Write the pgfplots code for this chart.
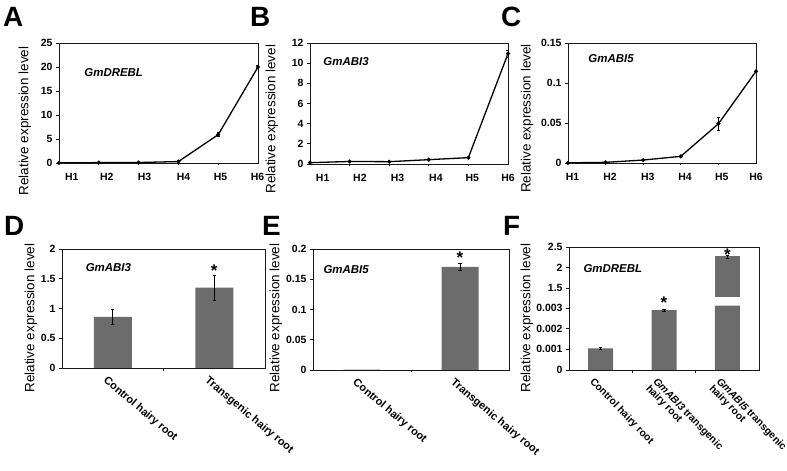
\documentclass[border=0pt]{standalone}
\usepackage{fontspec}
\setmainfont{Liberation Sans}
\usepackage{pgfplots}
\pgfplotsset{compat=1.18}
\definecolor{barc}{RGB}{108,108,108}
\definecolor{axc}{RGB}{25,25,25}
\newcommand{\fs}[1]{\fontsize{#1}{#1}\selectfont}
\pgfplotsset{
  panel/.style={
    scale only axis, axis line style={line width=0.9bp, axc},
    tick style={axc, line width=0.7bp}, tick align=outside,
    major tick length=3bp, minor tick length=2.5bp,
    tick label style={font=\bfseries\fs{10.5}},
    /pgf/number format/assume math mode=true,
    /pgf/number format/fixed, /pgf/number format/precision=3,
    scaled y ticks=false,
    ylabel={Relative expression level},
    ylabel style={font=\fs{13.5}, anchor=center},
    ytick pos=left, xtick pos=bottom, ymin=0,
    xtick style={/pgfplots/major tick length=0bp},
  },
  eb/.style={error bars/y dir=both, error bars/y explicit,
    error bars/error bar style={line width=0.6bp, black},
    error bars/error mark options={rotate=90, mark size=1.6bp, line width=0.6bp, black}},
  % labels of the line charts sit a little off the points, as in the source
  linep/.style={panel, xmin=1, xmax=6, minor xtick={2,3,4,5},
    xticklabels={H1,H2,H3,H4,H5,H6},
    xticklabel style={yshift=-4bp}},
  barp/.style={panel, xmin=0.5, xmax=#1+0.5, xtick={1,...,#1},
    xticklabel style={font=\bfseries\fs{11}, rotate=-40, anchor=north west,
      align=left, xshift=-4bp, yshift=-3bp}},
  curve/.style={black, line width=1.3bp, mark=*, mark size=1.3bp, eb},
  gbar/.style={ybar, bar width=#1, fill=barc, draw=none, eb},
  star/.style={only marks, mark=text, text mark={*}, text mark as node=true,
    text mark style={font=\bfseries\fs{17}, inner sep=0pt, yshift=-3bp}},
  % broken axis of panel F: frame drawn by hand, open at the break
  brk/.style={axis line style={draw=none}, clip mode=individual},
}
\tikzset{
  gene/.style={anchor=west, font=\bfseries\itshape\fs{11.5}},
  letter/.style={anchor=north west, inner sep=0pt, font=\bfseries\fs{28}},
  frame/.style={line width=0.9bp, axc, line cap=rect},
}
\begin{document}
\begin{tikzpicture}
\useasboundingbox (0,0) rectangle (787bp,471bp);

% A
\begin{axis}[linep, at={(59bp,428bp)}, anchor=north west, width=199bp, height=120bp,
  ymax=25, ytick={0,5,...,25}, xtick={1.32,2.2,3.15,4.13,5.06,5.99},
  ylabel style={at={(axis description cs:-0.171,0.35)}}]
\addplot[curve] coordinates {(1,0.02) (2,0.08) (3,0.1) (4,0.3) (5,5.9) +- (0,0.4) (6,20) +- (0,0.3)};
\node[gene] at (rel axis cs:0.11,0.754) {GmDREBL};
\end{axis}

% B
\begin{axis}[linep, at={(310bp,428bp)}, anchor=north west, width=198bp, height=121bp,
  ymax=12, ytick={0,2,...,12}, xtick={1.32,2.26,3.21,4.18,5.10,6.0},
  ylabel style={at={(axis description cs:-0.192,0.37)}}]
\addplot[curve] coordinates {(1,0.13) (2,0.25) (3,0.23) (4,0.43) (5,0.63) (6,10.95) +- (0,0.35)};
\node[gene] at (rel axis cs:0.05,0.85) {GmABI3};
\end{axis}

% C
\begin{axis}[linep, at={(568bp,428bp)}, anchor=north west, width=188bp, height=120bp,
  ymax=0.15, ytick={0,0.05,0.1,0.15}, xtick={1.12,2.12,3.12,4.11,5.09,6.0},
  ylabel style={at={(axis description cs:-0.218,0.37)}}]
\addplot[curve] coordinates {(1,0.0002) (2,0.0008) (3,0.0037) (4,0.0083) (5,0.049) +- (0,0.0083) (6,0.1146)};
\node[gene] at (rel axis cs:0.09,0.867) {GmABI5};
\end{axis}

% D
\begin{axis}[barp=2, at={(62bp,222bp)}, anchor=north west, width=203bp, height=119bp,
  ymax=2, ytick={0,0.5,...,2}, minor xtick={1.5},
  xticklabels={Control hairy root, Transgenic hairy root},
  ylabel style={at={(axis description cs:-0.153,0.42)}}]
\addplot[gbar=38bp] coordinates {(1,0.86) +- (0,0.125) (2,1.35) +- (0,0.21)};
\addplot[star] coordinates {(2,1.68)};
\node[gene] at (rel axis cs:0.1,0.84) {GmABI3};
\end{axis}

% E
\begin{axis}[barp=2, at={(313bp,222bp)}, anchor=north west, width=196bp, height=121bp,
  ymax=0.2, ytick={0,0.05,...,0.2}, minor xtick={1.5},
  xticklabels={Control hairy root, Transgenic hairy root},
  ylabel style={at={(axis description cs:-0.189,0.43)}}]
\addplot[gbar=37bp] coordinates {(1,0.0008) (2,0.1706) +- (0,0.006)};
\addplot[star] coordinates {(2,0.19)};
\node[gene] at (rel axis cs:0.036,0.83) {GmABI5};
\end{axis}

% F, lower part (0 to the break)
\begin{axis}[barp=3, brk, at={(569bp,101bp)}, anchor=south west, width=190bp, height=73.3bp,
  ymax=0.003557, ytick={0,0.001,0.002,0.003}, minor xtick={1.5,2.5},
  xticklabel style={rotate=-6, font=\bfseries\fs{10.3}, xshift=-1bp},
  xticklabels={Control hairy root, \textit{GmABI3} transgenic\\hairy root, \textit{GmABI5} transgenic\\hairy root},
  ylabel style={at={(axis description cs:-0.221,0.71)}}]
\addplot[gbar=25bp] coordinates {(1,0.00105) +- (0,0.00003) (2,0.0029) +- (0,0.00003) (3,0.00312)};
\addplot[star] coordinates {(2,0.0034)};
\draw[frame] (rel axis cs:0,1) -- (rel axis cs:0,0) -- (rel axis cs:1,0) -- (rel axis cs:1,1);
\end{axis}

% F, upper part (above the break)
\begin{axis}[panel, brk, at={(569bp,224bp)}, anchor=north west, width=190bp, height=49.7bp,
  xmin=0.5, xmax=3.5, xtick=\empty, ymin=1.29, ymax=2.5, ytick={1.5,2,2.5}, ylabel={}]
\addplot[gbar=25bp] coordinates {(3,2.27) +- (0,0.04)};
\addplot[star] coordinates {(3,2.385)};
\draw[frame] (rel axis cs:0,0) -- (rel axis cs:0,1) -- (rel axis cs:1,1) -- (rel axis cs:1,0);
\node[gene] at (rel axis cs:0.058,0.57) {GmDREBL};
\end{axis}

\node[letter] at (3bp,464bp) {A};
\node[letter] at (250bp,464bp) {B};
\node[letter] at (501bp,464bp) {C};
\node[letter] at (4bp,255bp) {D};
\node[letter] at (262bp,255bp) {E};
\node[letter] at (503bp,255bp) {F};
\end{tikzpicture}
\end{document}
